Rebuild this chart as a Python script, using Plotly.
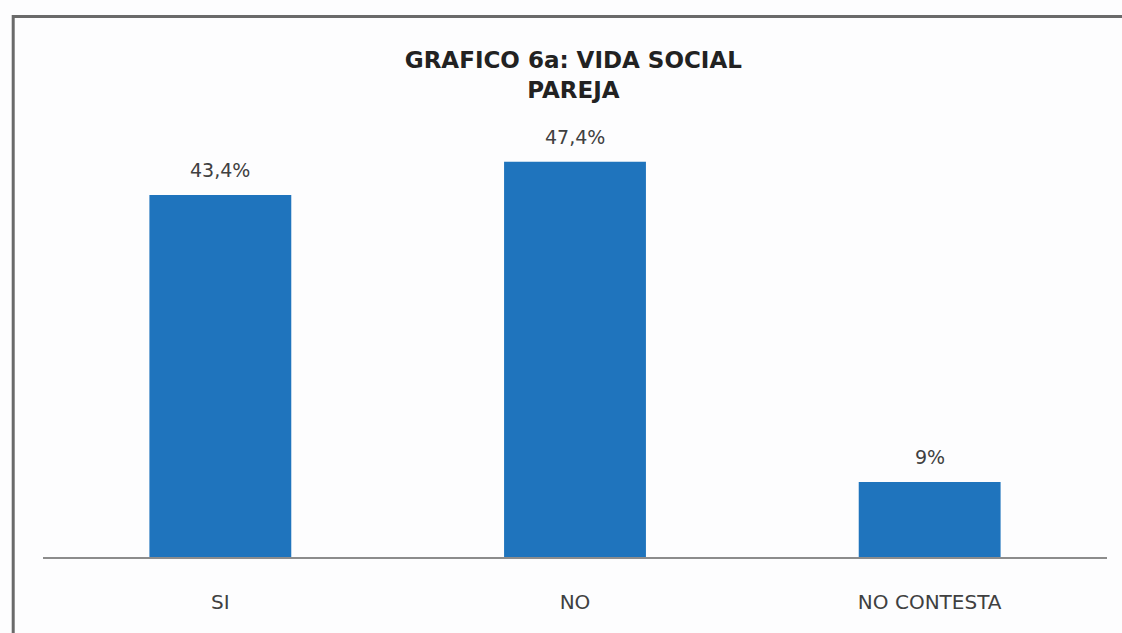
import plotly.graph_objects as go

# Survey answers and their shares (%)
categories = ["SI", "NO", "NO CONTESTA"]
values = [43.4, 47.4, 9]
value_labels = ["43,4%", "47,4%", "9%"]

bar_color = "#1F74BD"
text_color = "#404040"
font_family = "DejaVu Sans, Open Sans, sans-serif"

fig = go.Figure(
    go.Bar(
        x=categories,
        y=values,
        marker=dict(color=bar_color, line=dict(width=0)),
        hoverinfo="skip",
    )
)

# Value labels above each bar
for cat, val, lab in zip(categories, values, value_labels):
    fig.add_annotation(
        x=cat, y=val, text=lab, showarrow=False,
        yanchor="bottom", yshift=12,
        font=dict(family=font_family, size=19, color=text_color),
    )

# Outer frame of the chart
fig.add_shape(
    type="rect", xref="paper", yref="paper",
    x0=-0.028, x1=1.2, y0=-0.35, y1=1.296,
    line=dict(color="#6a6a6a", width=3), fillcolor="rgba(0,0,0,0)",
    layer="below",
)

fig.update_layout(
    width=1122, height=633,
    margin=dict(l=43, r=15, t=140, b=76),
    paper_bgcolor="#fdfdfe", plot_bgcolor="#fdfdfe",
    bargap=0.6,
    showlegend=False,
    title=dict(
        text="<b>GRAFICO 6a: VIDA SOCIAL<br>PAREJA</b>",
        x=0.511, xanchor="center", y=0.892, yanchor="middle",
        font=dict(family=font_family, size=23, color="#222222"),
    ),
    font=dict(family=font_family, color=text_color),
)

fig.update_xaxes(
    showline=True, linecolor="#8c8c8c", linewidth=1.5,
    ticks="", showgrid=False, zeroline=False,
    tickfont=dict(family=font_family, size=20, color=text_color),
    ticklabelstandoff=26,
)
fig.update_yaxes(
    range=[0, 50], visible=False, showgrid=False, zeroline=False,
)

fig.write_html("out.html")
